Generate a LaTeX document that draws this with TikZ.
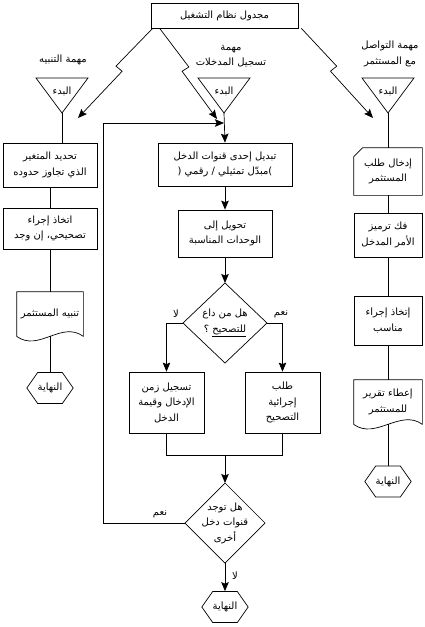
\documentclass[tikz,border=0pt]{standalone}
\usepackage{fontspec}
\TeXXeTstate=1
\newfontfamily\arf[Script=Arabic]{DejaVu Sans}
\newcommand\artxt[1]{\beginR #1\endR}
\usetikzlibrary{calc,arrows.meta,shapes.symbols}
\begin{document}
\begin{tikzpicture}[x=1pt,y=-1pt,line width=0.7pt,
  every node/.style={font=\arf\fontsize{10}{15.5}\selectfont,align=center,inner sep=0pt},
  proc/.style 2 args={draw,rectangle,minimum width=#1,minimum height=#2},
  shapebox/.style 2 args={rectangle,minimum width=#1,minimum height=#2},
  hexa/.style={draw,signal,signal to=east and west,signal pointer angle=110,minimum width=42,minimum height=31},
  arr/.style={-{Stealth[length=9pt,width=7.5pt,inset=1.5pt]}},
  bolt/.style={to path={-- ($(\tikztostart)!0.45!(\tikztotarget)!4pt!#1:(\tikztotarget)$) -- ($(\tikztostart)!0.45!(\tikztotarget)!-4pt!#1:(\tikztotarget)$) -- (\tikztotarget)}}
]
\useasboundingbox (0,0) rectangle (424,627);

% top
\node[proc={147}{25}] (sched) at (224.5,15.5) {\artxt{مجدول نظام التشغيل}};
\node (lblL) at (63,60) {\artxt{مهمة التنبيه}};
\node (lblM) at (231,56) {\artxt{مهمة}\\\artxt{تسجيل المدخلات}};
\node (lblR) at (390,54) {\artxt{مهمة التواصل}\\\artxt{مع المستثمر}};

\node (stL) at (62,91) {\artxt{البدء}};
\node (stM) at (224,91) {\artxt{البدء}};
\node (stR) at (388,91) {\artxt{البدء}};
\foreach \n in {stL,stM,stR}
  \draw ($(\n)+(-26,-13)$) -- ($(\n)+(26,-13)$) -- ($(\n)+(0,22)$) coordinate (\n-apex) -- cycle;

\coordinate (aL) at (78,118);
\coordinate (aM) at (217,119);
\coordinate (aR) at (373,118);
\draw[arr] ($(sched.south west)+(2,0)$) to[bolt=-90] (aL);
\draw[arr] ($(sched.south west)+(9,0)$) to[bolt=90] (aM);
\draw[arr] ($(sched.south east)+(3,0)$) to[bolt=90] (aR);

% left column
\node[proc={94}{44}] (l1) at (50,165) {\artxt{تحديد المتغير}\\\artxt{الذي تجاوز حدوده}};
\node[proc={94}{41}] (l2) at (50,228.5) {\artxt{اتخاذ إجراء}\\\artxt{تصحيحي، إن وجد}};
\node[shapebox={66}{44}] (l3) at (50,314) {\artxt{تنبيه المستثمر}};
\node[hexa] (l4) at (50,388) {\artxt{النهاية}};
\draw (stL-apex) -- (stL-apex |- l1.north);
\draw (l1.south) -- (l2.north);
\draw (l2.south) -- (l3.north);
\draw (l3.south) -- (l4.north);

% middle column
\node[proc={134}{43}] (m1) at (225,164.5) {\artxt{تبديل إحدى قنوات الدخل}\\\artxt{\hbox{)}مبدّل تمثيلي / رقمي \hbox{(}}};
\node[proc={94}{47}] (m2) at (225,233.5) {\artxt{تحويل إلى}\\\artxt{الوحدات المناسبة}};
\node (d1) at (225,323) {\artxt{هل من داع}\\\artxt{\underline{للتصحيح} ؟}};
\coordinate (d1n) at ($(d1)+(0,-40)$);
\coordinate (d1e) at ($(d1)+(42,0)$);
\coordinate (d1s) at ($(d1)+(0,40)$);
\coordinate (d1w) at ($(d1)+(-42,0)$);
\draw (d1n) -- (d1e) -- (d1s) -- (d1w) -- cycle;
\node[proc={75}{61}] (mc) at (166.5,402.5) {\artxt{تسجيل زمن}\\\artxt{الإدخال وقيمة}\\\artxt{الدخل}};
\node[proc={75}{61}] (mr) at (282.5,402.5) {\artxt{طلب}\\\artxt{إجرائية}\\\artxt{التصحيح}};
\coordinate (mj) at (225,455);
\node (d2) at (225,523) {\artxt{هل توجد}\\\artxt{قنوات دخل}\\\artxt{أخرى}};
\coordinate (d2n) at ($(d2)+(0,-40)$);
\coordinate (d2e) at ($(d2)+(40,0)$);
\coordinate (d2s) at ($(d2)+(0,40)$);
\coordinate (d2w) at ($(d2)+(-40,0)$);
\draw (d2n) -- (d2e) -- (d2s) -- (d2w) -- cycle;
\node[hexa] (mend) at (225,607) {\artxt{النهاية}};
\coordinate (fb) at (103,123);

\draw[arr] (stM-apex) -- (m1.north);
\draw[arr] (m1.south) -- (m2.north);
\draw[arr] (m2.south) -- (d1n);
\draw[arr] (d1w) -| (mc.north);
\draw[arr] (d1e) -| (mr.north);
\draw (mc.south) |- (mj);
\draw (mr.south) |- (mj);
\draw[arr] (mj) -- (d2n);
\draw[arr] (d2s) -- (mend.north);
\draw[arr] (d2w) -| (fb) -- (stM-apex |- fb);

\node (no1) at (176,314) {\artxt{لا}};
\node (yes1) at (281,314) {\artxt{نعم}};
\node (yes2) at (160,514) {\artxt{نعم}};
\node (no2) at (235,576) {\artxt{لا}};

% right column
\node[shapebox={68}{47}] (r1) at (388,171.5) {\artxt{إدخال طلب}\\\artxt{المستثمر}};
\draw (r1.south west) -- ($(r1.north west)+(0,9)$) -- ($(r1.north west)+(9,0)$) -- (r1.north east) -- (r1.south east) -- cycle;
\node[proc={68}{44}] (r2) at (388,235) {\artxt{فك ترميز}\\\artxt{الأمر المدخل}};
\node[proc={68}{49}] (r3) at (388,320.5) {\artxt{إتخاذ إجراء}\\\artxt{مناسب}};
\node[shapebox={68}{44}] (r4) at (388,402) {\artxt{إعطاء تقرير}\\\artxt{للمستثمر}};
\node[hexa] (rend) at (388,481.5) {\artxt{النهاية}};
\draw (stR-apex) -- (r1.north);
\draw (r1.south) -- (r2.north);
\draw (r2.south) -- (r3.north);
\draw (r3.south) -- (r4.north);
\draw (r4.south) -- (rend.north);

\foreach \n in {l3,r4}
  \draw (\n.south west) -- (\n.north west) -- (\n.north east) -- (\n.south east)
    .. controls ($(\n.south east)+(-22,-16)$) and ($(\n.south west)+(22,16)$) .. (\n.south west);
\end{tikzpicture}
\end{document}
